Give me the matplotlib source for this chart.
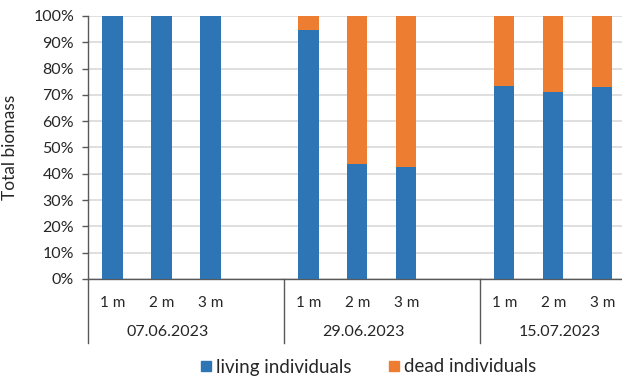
import matplotlib.pyplot as plt
import matplotlib.transforms as mtransforms
from matplotlib.patches import Patch

plt.rcParams['font.family'] = ['Lato', 'DejaVu Sans']

# data (percent of total biomass)
dates = ['07.06.2023', '29.06.2023', '15.07.2023']
depths = ['1 m', '2 m', '3 m']
living = [100, 100, 100, 94.7, 43.6, 42.7, 73.5, 71.0, 73.0]
dead = [0, 0, 0, 5.3, 56.4, 57.3, 26.5, 29.0, 27.0]

blue = '#2E75B6'
orange = '#ED7D31'
axis_col = '#595959'
text_col = '#262626'

# bar slots: three depths per date, one empty slot between dates
pos = []
for g in range(len(dates)):
    for d in range(len(depths)):
        pos.append(g * 4 + d)

fig = plt.figure(figsize=(6.22, 3.8), dpi=100)
ax = fig.add_axes([88 / 622, 1 - 279 / 380, 1 - 88 / 622, 263 / 380])

ax.bar(pos, living, width=0.41, color=blue, zorder=3)
ax.bar(pos, dead, width=0.41, bottom=living, color=orange, zorder=3)

ax.set_ylim(0, 100)
ax.set_xlim(-0.5, 10.4)
ax.set_yticks(range(0, 101, 10))
ax.set_yticklabels([f'{v}%' for v in range(0, 101, 10)])
ax.yaxis.grid(True, color='#D9D9D9', linewidth=1.2, zorder=0)
ax.set_axisbelow(True)

ax.set_xticks(pos)
ax.set_xticklabels(depths * len(dates))
ax.tick_params(axis='x', length=0, pad=12, labelsize=11, colors=text_col)
ax.tick_params(axis='y', length=4, width=1, pad=6, labelsize=11.5,
               colors=axis_col, labelcolor=text_col)

for s in ['top', 'right']:
    ax.spines[s].set_visible(False)
for s in ['left', 'bottom']:
    ax.spines[s].set_color(axis_col)
    ax.spines[s].set_linewidth(1)

ax.set_ylabel('Total biomass', fontsize=12.5, color=text_col)
ax.yaxis.set_label_coords(-0.131, 0.5)

# group separators and date labels below the axis
trans = mtransforms.blended_transform_factory(ax.transData, ax.transAxes)
for x in [-0.5, 3.5, 7.5]:
    ax.plot([x, x], [0, -0.245], color=axis_col, linewidth=1,
            transform=trans, clip_on=False)
for g, name in enumerate(dates):
    first = pos[g * 3]
    last = pos[g * 3 + 2]
    ax.text((first + last) / 2 + 0.13, -0.2, name, transform=trans,
            ha='center', va='center', fontsize=11.5, color=text_col)

handles = [Patch(color=blue), Patch(color=orange)]
fig.legend(handles, ['living individuals', 'dead individuals'],
           loc='center', bbox_to_anchor=(369 / 622, 1 - 367 / 380),
           ncol=2, frameon=False, fontsize=13.5, handlelength=0.5,
           handleheight=0.5, handletextpad=0.3, columnspacing=2.0,
           labelcolor=text_col)

fig.savefig('out.png', dpi=100)
